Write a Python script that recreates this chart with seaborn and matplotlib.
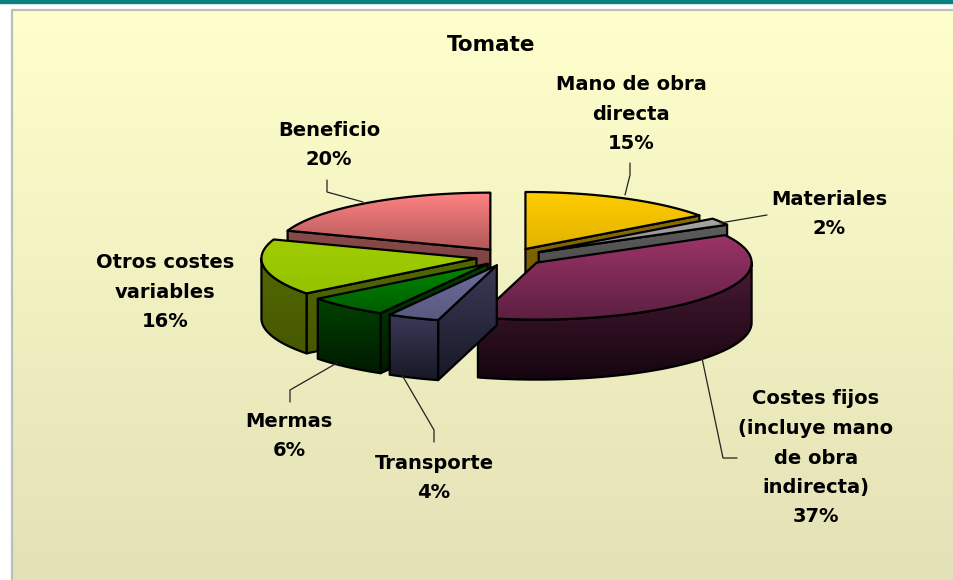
import numpy as np
import matplotlib
matplotlib.use("Agg")
import matplotlib.pyplot as plt
import seaborn as sns
from matplotlib.patches import Polygon
from matplotlib.colors import to_rgb

# -------------------------------
# Data
# -------------------------------
categories = ["Mano de obra\ndirecta", "Materiales",
              "Costes fijos\n(incluye mano\nde obra\nindirecta)",
              "Transporte", "Mermas", "Otros costes\nvariables", "Beneficio"]
shares = [15.0, 2.0, 37.4, 3.9, 6.2, 15.9, 19.6]

top_colors = [("#FFCC00", "#E2B300"), ("#A8A8A8", "#8A8A8A"), ("#9C3468", "#5C1F41"),
              ("#6E6EA0", "#58587F"), ("#008A00", "#005C00"), ("#A0CC00", "#94C400"),
              ("#FF8282", "#B05858")]
side_colors = [("#8A6E00", "#6A5500"), ("#5C5C5C", "#404040"), ("#4A1A34", "#150510"),
               ("#3A3A58", "#181826"), ("#004200", "#001A00"), ("#526800", "#465800"),
               ("#8A4A4A", "#6E3838")]

# label anchor (centre of text block) and leader polylines, in pixels
label_xy = [(631, 114), (829, 214), (816, 458), (434, 478), (289, 436), (165, 292), (329, 145)]
leaders = [[(630, 163), (630, 175), (625, 195)],
           [(767, 215), (720, 223)],
           [(737, 458), (723, 458), (702, 358)],
           [(434, 442), (434, 430), (402, 375)],
           [(290, 402), (290, 390), (337, 363)],
           None,
           [(327, 180), (327, 192), (363, 202)]]

# pie geometry (pixels)
CX, CY = 510, 257
RX, RY = 215, 57
DEPTH = 60
EXP_X, EXP_Y = 34, 9

sns.set_theme(style="white")
plt.rcParams['font.family'] = ['DejaVu Sans']

fig = plt.figure(figsize=(9.54, 5.8), dpi=100)
ax = fig.add_axes([0, 0, 1, 1])
ax.set_xlim(0, 954)
ax.set_ylim(580, 0)
ax.set_autoscale_on(False)
ax.axis('off')


def grad_poly(verts, c1, c2, z, edge=True):
    verts = np.asarray(verts)
    x0, x1 = verts[:, 0].min(), verts[:, 0].max()
    y0, y1 = verts[:, 1].min(), verts[:, 1].max()
    t = np.linspace(0, 1, 128)[:, None]
    rgb = (1 - t) * np.array(to_rgb(c1)) + t * np.array(to_rgb(c2))
    im = ax.imshow(rgb[:, None, :], extent=(x0, x1, y1, y0), aspect='auto',
                   interpolation='bilinear', zorder=z)
    im.set_clip_path(Polygon(verts, closed=True, transform=ax.transData))
    if edge:
        ax.add_patch(Polygon(verts, closed=True, facecolor='none', edgecolor='black',
                             lw=1.6, joinstyle='round', zorder=z + 0.5))


# background: teal top line + pale yellow gradient chart area
ax.fill_between([0, 954], 0, 2.5, color="#0B8080", zorder=1)
grad_poly([(12, 10), (954, 10), (954, 580), (12, 580)], "#FFFFCC", "#E3E1B6", 1.5, edge=False)
ax.plot([12, 12, 954], [580, 10, 10], color="#BDBDBD", lw=1.6, zorder=2)

ax.text(491, 45, "Tomate", ha='center', va='center', fontsize=15.5, fontweight='bold',
        color='black', zorder=50)

# -------------------------------
# 3D exploded pie
# -------------------------------
fracs = np.array(shares) / np.sum(shares)
cum = np.concatenate([[0], np.cumsum(fracs)])
starts = 90 - 360 * cum[:-1]
ends = 90 - 360 * cum[1:]
mids = (starts + ends) / 2

order = np.argsort(-np.sin(np.radians(mids)))
z = 10
for i in order:
    s, e, m = np.radians(starts[i]), np.radians(ends[i]), np.radians(mids[i])
    ax_, ay_ = CX + EXP_X * np.cos(m), CY - EXP_Y * np.sin(m)

    def rim(th, dz=0.0):
        return np.column_stack([ax_ + RX * np.cos(th), ay_ - RY * np.sin(th) + dz])

    apex = np.array([[ax_, ay_]])
    apex_b = apex + [0, DEPTH]
    # radial cut faces facing the viewer
    if np.cos(s) < 0:
        grad_poly(np.vstack([apex, rim([s]), rim([s], DEPTH), apex_b]), *side_colors[i], z)
        z += 1
    if np.cos(e) > 0:
        grad_poly(np.vstack([apex, rim([e]), rim([e], DEPTH), apex_b]), *side_colors[i], z)
        z += 1
    # outer curved wall (front half only)
    lo, hi = max(e, -np.pi), min(s, 0.0)
    if hi > lo:
        th = np.linspace(hi, lo, 80)
        grad_poly(np.vstack([rim(th), rim(th[::-1], DEPTH)]), *side_colors[i], z)
        z += 1
    # top face
    th = np.linspace(s, e, 120)
    grad_poly(np.vstack([apex, rim(th)]), *top_colors[i], z)
    z += 1

# -------------------------------
# labels and leader lines
# -------------------------------
for name, v, (x, y), ld in zip(categories, fracs * 100, label_xy, leaders):
    ax.text(x, y, f"{name}\n{v:.0f}%", ha='center', va='center', fontsize=14,
            fontweight='bold', linespacing=1.7, color='black', zorder=60)
    if ld:
        xs, ys = zip(*ld)
        ax.plot(xs, ys, color='#222222', lw=0.9, zorder=55)

fig.savefig("out.png", dpi=100)
